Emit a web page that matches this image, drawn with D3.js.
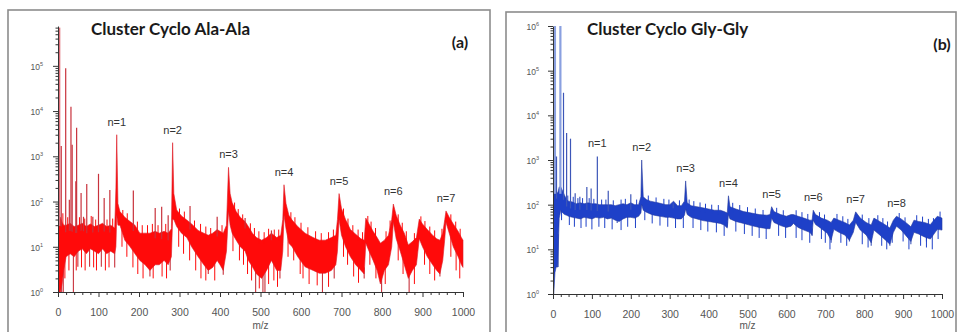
<!DOCTYPE html>
<html>
<head>
<meta charset="utf-8">
<script src="https://cdn.jsdelivr.net/npm/d3@7"></script>
<style>
  body { margin: 0; background: #fff; }
  svg { display: block; }
</style>
</head>
<body>
<svg id="chart" width="959" height="332"></svg>
<script>
// ---- panel (a): Cluster Cyclo Ala-Ala ----
// noise band of the spectrum: m/z, lower and upper edge
const alaBandMz = [
  0, 2, 6, 10, 14, 20, 30, 40, 50, 60,
  70, 80, 90, 100, 110, 120, 130, 140, 143, 145,
  148, 153, 165, 178, 190, 202, 215, 227, 240, 250,
  262, 272, 280, 283, 286, 293, 305, 318, 330, 346,
  360, 371, 382, 393, 400, 408, 416, 421, 425, 430,
  440, 450, 462, 470, 480, 490, 503, 515, 527, 540,
  550, 555, 558, 563, 570, 578, 592, 610, 630, 645,
  660, 675, 686, 690, 694, 700, 710, 722, 735, 748,
  756, 760, 768, 778, 788, 796, 806, 816, 824, 828,
  835, 845, 855, 865, 875, 885, 892, 900, 912, 925,
  935, 943, 950, 955, 958, 966, 976, 988, 996, 1000];
const alaBandLow = [
  1, 1, 1, 1.5, 3, 6, 7, 6, 8, 9,
  7, 9, 8, 7, 9, 7, 8, 7, 10, 50,
  30, 30, 14, 10, 7, 5, 4, 3, 4, 4,
  5, 4, 6, 40, 40, 28, 20, 16, 10, 6,
  4, 3, 3.5, 5, 4, 3, 8, 60, 30, 20,
  14, 10, 8, 5, 3.6, 2.5, 2, 3, 5, 3,
  3, 8, 50, 25, 12, 10, 6, 3.6, 3, 2.6,
  2.6, 3, 4, 8, 40, 18, 10, 6, 4, 3,
  2.5, 12, 8, 5, 3, 1.5, 3, 4, 10, 35,
  15, 8, 4, 2, 3, 4, 15, 10, 6, 4,
  3, 2.5, 5, 15, 35, 20, 10, 6, 4, 3.5];
const alaBandHigh = [
  1, 40, 45, 35, 30, 30, 33, 28, 30, 33,
  28, 32, 28, 30, 33, 28, 30, 26, 200, 3000,
  90, 60, 45, 36, 30, 20, 20, 20, 22, 20,
  22, 20, 25, 2000, 150, 65, 48, 39, 32, 23,
  20, 18, 20, 24, 22, 20, 30, 570, 150, 95,
  60, 45, 36, 28, 20, 16, 14, 16, 20, 16,
  18, 40, 235, 90, 50, 39, 28, 20, 16, 14,
  14, 16, 18, 40, 150, 70, 40, 24, 19, 15,
  14, 43, 32, 22, 16, 12, 14, 18, 40, 88,
  50, 30, 20, 11, 13, 16, 41, 32, 24, 18,
  15, 14, 20, 40, 62, 45, 32, 22, 16, 14];
// sharp lines above the band
const alaSpikeMz  = [3, 8, 19, 28, 32, 35, 44, 46, 57, 63, 71, 86, 100, 114, 128, 186, 240, 256, 272, 326, 393, 462, 527];
const alaSpikeInt = [7e5, 1700, 89000, 110, 12500, 1800, 280, 4300, 155, 46, 245, 46, 410, 120, 180, 175, 72, 77, 50, 80, 46, 43, 23];
// deep lines below the band
const alaDipMz  = [1, 4, 9, 13, 38, 49, 78, 107, 140, 227, 277, 371, 408, 488, 506, 511, 548, 653, 682, 756, 799, 867, 943];
const alaDipInt = [1, 1, 1, 1, 1, 3.6, 3.6, 3.6, 3.5, 2.2, 3, 2.5, 2.4, 1, 1, 1, 2, 1, 2, 2, 1, 1, 2.2];
// small noise ticks on the upper and lower edge of the band
const alaUpMz  = [12, 24, 53, 66, 82, 93, 121, 135, 160, 171, 196, 208, 221, 233, 247, 266, 300, 312, 337, 352,
                  365, 377, 405, 436, 445, 456, 475, 485, 496, 509, 520, 534, 545, 575, 585, 600, 617, 636, 650, 668,
                  680, 705, 716, 728, 741, 752, 765, 773, 784, 810, 820, 840, 850, 860, 880, 896, 906, 918, 930, 948,
                  970, 982, 993];
const alaUpInt = [55, 45, 45, 42, 48, 40, 40, 42, 65, 55, 36, 30, 30, 32, 30, 32, 70, 60, 38, 32,
                  28, 26, 30, 95, 68, 52, 33, 26, 22, 21, 25, 24, 24, 58, 45, 34, 27, 22, 20, 21,
                  24, 70, 42, 30, 24, 21, 48, 36, 26, 22, 38, 52, 34, 22, 20, 47, 37, 28, 23, 25,
                  52, 36, 25];
const alaLowMz  = [17, 27, 45, 58, 67, 88, 95, 117, 126, 158, 170, 185, 197, 210, 235, 257, 268, 298, 310, 325,
                   340, 353, 365, 387, 432, 448, 458, 468, 478, 497, 520, 533, 542, 568, 582, 598, 605, 620, 640, 668,
                   705, 715, 730, 742, 770, 785, 808, 840, 852, 880, 905, 918, 930, 970, 983, 992];
const alaLowInt = [2, 3, 3, 3.5, 3, 3.5, 3, 3, 3.5, 10, 6, 3.5, 2.5, 2, 2, 2.2, 2, 10, 7, 5,
                   3, 2, 1.8, 1.8, 8, 5, 4, 2.5, 1.8, 1.2, 1.5, 1.8, 1.3, 6, 5, 2.5, 2, 1.5, 1.4, 1.3,
                   6, 4, 2.2, 1.6, 4, 2, 1.5, 5, 2.5, 1.5, 4, 2.5, 1.8, 6, 3, 2];
// cluster peaks n=1..7
const alaLabelMz  = [145, 283, 421, 558, 694, 828, 958];
const alaLabelInt = [3000, 2000, 570, 235, 150, 88, 62];

// ---- panel (b): Cluster Cyclo Gly-Gly ----
const glyBandMz = [
  0, 2, 5, 8, 12, 16, 20, 25, 30, 35,
  40, 50, 60, 70, 80, 90, 100, 110, 120, 130,
  140, 150, 160, 170, 180, 190, 200, 210, 220, 226,
  228, 232, 240, 250, 260, 270, 280, 290, 300, 310,
  320, 330, 338, 341, 345, 355, 370, 385, 400, 415,
  430, 440, 448, 451, 455, 470, 490, 510, 530, 550,
  558, 562, 568, 585, 600, 612, 618, 630, 645, 660,
  666, 669, 675, 690, 705, 715, 722, 735, 750, 762,
  772, 778, 790, 805, 818, 825, 840, 855, 866, 875,
  883, 895, 910, 920, 928, 940, 955, 970, 988, 1000];
const glyBandLow = [
  1, 1, 3, 4, 4, 50, 75, 65, 60, 58,
  55, 52, 50, 48, 52, 50, 48, 52, 50, 52,
  48, 50, 45, 42, 48, 52, 52, 50, 55, 65,
  100, 75, 68, 62, 58, 56, 54, 52, 52, 50,
  48, 48, 58, 80, 60, 52, 48, 44, 42, 40,
  38, 35, 30, 60, 48, 42, 38, 34, 31, 29,
  29, 50, 40, 34, 31, 33, 38, 31, 27, 24,
  21, 45, 36, 29, 23, 16, 28, 24, 21, 16,
  24, 40, 27, 21, 14, 27, 21, 16, 13, 24,
  33, 27, 19, 15, 24, 22, 19, 17, 28, 27];
const glyBandHigh = [
  1, 200, 250, 200, 180, 250, 250, 200, 160, 130,
  120, 115, 105, 110, 105, 110, 105, 105, 100, 100,
  100, 100, 95, 100, 105, 100, 110, 100, 100, 150,
  1000, 150, 130, 120, 115, 110, 105, 100, 100, 120,
  95, 95, 120, 340, 110, 95, 90, 85, 80, 75,
  75, 70, 65, 158, 90, 80, 70, 65, 60, 58,
  60, 90, 70, 60, 55, 60, 60, 55, 50, 45,
  45, 75, 60, 50, 45, 40, 50, 45, 40, 35,
  45, 69, 50, 40, 35, 50, 42, 35, 30, 45,
  55, 48, 38, 32, 45, 42, 40, 36, 55, 50];
const glySpikeMz  = [1, 5, 9, 19, 27, 35, 45, 57, 69, 87, 98, 114, 142, 200, 309];
const glySpikeInt = [14000, 1e6, 1200, 1e6, 32000, 4000, 3000, 180, 150, 250, 230, 1200, 205, 170, 107];
const glyDipMz  = [0.5, 6, 10, 13, 165, 448, 666, 715, 762, 818, 866, 920, 960];
const glyDipInt = [1, 4, 4.5, 4, 39, 32, 20, 14, 15, 12, 12, 13, 15];
const glyUpMz  = [38, 52, 64, 76, 93, 105, 125, 136, 155, 175, 186, 215, 245, 265, 285, 298, 325, 350, 362, 378,
                  392, 408, 425, 462, 480, 500, 520, 540, 575, 592, 625, 640, 655, 685, 698, 730, 745, 758, 795, 812,
                  835, 848, 860, 890, 905, 935, 950, 965, 978, 995];
const glyUpInt = [160, 150, 140, 140, 140, 135, 130, 130, 125, 130, 135, 130, 160, 145, 135, 130, 125, 130, 120, 112,
                  105, 100, 98, 110, 98, 88, 82, 76, 85, 75, 75, 68, 62, 68, 60, 62, 55, 48, 60, 50,
                  58, 50, 42, 65, 52, 58, 54, 48, 50, 70];
const glyLowMz  = [22, 42, 55, 72, 85, 100, 118, 133, 152, 175, 192, 212, 236, 255, 275, 295, 315, 335, 360, 380,
                   398, 420, 440, 470, 492, 512, 530, 548, 580, 598, 625, 640, 660, 690, 700, 712, 740, 755, 795, 810,
                   845, 858, 872, 900, 915, 945, 960, 975, 990];
const glyLowInt = [45, 35, 32, 30, 32, 28, 32, 30, 28, 27, 32, 30, 45, 38, 34, 32, 30, 30, 30, 27,
                   25, 24, 20, 25, 22, 20, 18, 17, 20, 18, 18, 16, 14, 17, 14, 10, 14, 12, 13, 11,
                   12, 10, 14, 15, 10, 12, 11, 10, 17];
const glyLabelMz  = [114, 228, 341, 451, 562, 669, 778, 883];
const glyLabelInt = [1200, 1000, 340, 158, 90, 75, 69, 55];

const xTicks = d3.range(0, 1001, 100);
const xMinor = d3.range(0, 1001, 20).filter(v => v % 100);

const svg = d3.select('#chart');
const sans = '"Liberation Sans", Arial, sans-serif';

function drawPanel(p) {
  const g = svg.append('g');

  g.append('rect')
    .attr('x', p.box[0]).attr('y', p.box[1])
    .attr('width', p.box[2]).attr('height', p.box[3])
    .attr('fill', 'none')
    .attr('stroke', '#8c8c8c')
    .attr('stroke-width', 1.6);

  const x = d3.scaleLinear().domain([0, 1000]).range([p.left, p.right]);
  const y = d3.scaleLog().domain([1, p.yMax]).range([p.bottom, p.top]).clamp(true);

  g.append('clipPath').attr('id', 'clip-' + p.id)
    .append('rect')
    .attr('x', p.left).attr('y', p.top)
    .attr('width', p.right - p.left + 3).attr('height', p.bottom - p.top);

  const plot = g.append('g').attr('clip-path', 'url(#clip-' + p.id + ')');

  const loAt = d3.scaleLinear().domain(p.bandMz).range(p.bandLow);
  const hiAt = d3.scaleLinear().domain(p.bandMz).range(p.bandHigh);

  function ticks(cls, mz, val, from, color, w) {
    const rows = mz.map((m, i) => ({ m, v: val[i] }));
    plot.selectAll('line.' + cls).data(rows).join('line')
      .attr('class', cls)
      .attr('x1', d => x(d.m)).attr('x2', d => x(d.m))
      .attr('y1', d => y(from(d.m)))
      .attr('y2', d => y(d.v))
      .attr('stroke', typeof color === 'function' ? color : () => color)
      .attr('stroke-width', typeof w === 'function' ? w : () => w);
  }

  ticks('dip', p.dipMz, p.dipInt, m => loAt(m) * 1.4, p.line, 1.1);
  ticks('nlo', p.lowMz, p.lowInt, m => loAt(m) * 1.3, p.fill, 1);

  const band = p.bandMz.map((m, i) => ({ m, lo: p.bandLow[i], hi: p.bandHigh[i] }));
  plot.append('path')
    .datum(band)
    .attr('d', d3.area().x(d => x(d.m)).y0(d => y(d.lo)).y1(d => y(d.hi)))
    .attr('fill', p.fill)
    .attr('stroke', p.edge)
    .attr('stroke-width', 0.6)
    .attr('stroke-linejoin', 'round');

  ticks('nup', p.upMz, p.upInt, m => hiAt(m) * 0.8, p.fill, 1);
  ticks('spike', p.spikeMz, p.spikeInt, m => hiAt(m) * 0.7,
    d => d.v >= 1e5 ? p.tall : p.line, d => d.v >= 1e5 ? 2.2 : 1.2);

  // axes
  const xa = g.append('g')
    .attr('transform', 'translate(0,' + p.bottom + ')')
    .call(d3.axisBottom(x).tickValues(xTicks).tickSize(5).tickSizeOuter(0).tickFormat(d3.format('d')));
  g.append('g')
    .attr('transform', 'translate(0,' + p.bottom + ')')
    .call(d3.axisBottom(x).tickValues(xMinor).tickSize(3).tickFormat(''))
    .call(a => a.select('.domain').remove());
  xa.selectAll('.tick text')
    .attr('y', 16.5)
    .attr('dy', '0.71em')
    .attr('fill', '#555')
    .attr('font-size', 10.5)
    .attr('font-family', sans);

  const yMajor = d3.range(0, p.yExp + 1).map(e => Math.pow(10, e));
  const yMinor = [];
  d3.range(0, p.yExp + 1).forEach(e => {
    for (let k = 2; k <= 9; k++) {
      const v = k * Math.pow(10, e);
      if (v < p.yMax) yMinor.push(v);
    }
  });
  const ya = g.append('g')
    .attr('transform', 'translate(' + p.left + ',0)')
    .call(d3.axisLeft(y).tickValues(yMajor).tickSize(5).tickSizeOuter(0).tickFormat(''));
  g.append('g')
    .attr('transform', 'translate(' + p.left + ',0)')
    .call(d3.axisLeft(y).tickValues(yMinor).tickSize(2.5).tickFormat(''))
    .call(a => a.select('.domain').remove());
  ya.selectAll('.tick text').each(function (d) {
    const t = d3.select(this)
      .attr('x', p.yLabelX)
      .attr('dy', '0.35em')
      .attr('fill', '#555')
      .attr('font-family', sans);
    t.append('tspan').attr('font-size', 8.5).text('10');
    t.append('tspan').attr('font-size', 5.5).attr('dy', -4).text(Math.round(Math.log10(d)));
  });
  g.selectAll('.domain, .tick line').attr('stroke', '#333');

  g.append('text')
    .attr('x', (p.left + p.right) / 2).attr('y', 329)
    .attr('text-anchor', 'middle')
    .attr('font-family', sans)
    .attr('font-size', 10).attr('fill', '#555')
    .text('m/z');

  // cluster labels
  const labels = p.labelMz.map((m, i) => ({ m, v: p.labelInt[i], t: 'n=' + (i + 1) }));
  g.selectAll('text.nlab').data(labels).join('text')
    .attr('class', 'nlab')
    .attr('x', d => x(d.m)).attr('y', d => y(d.v) - 9)
    .attr('text-anchor', 'middle')
    .attr('font-family', sans)
    .attr('font-size', 11).attr('fill', '#333')
    .text(d => d.t);

  g.append('text')
    .attr('x', p.titleX).attr('y', 35)
    .attr('font-family', 'Lato, "Open Sans", sans-serif')
    .attr('font-weight', 700).attr('font-size', 17).attr('fill', '#1a1a1a')
    .text(p.title);

  g.append('text')
    .attr('x', p.tagX).attr('y', p.tagY)
    .attr('text-anchor', 'middle')
    .attr('font-family', 'Lato, "Open Sans", sans-serif')
    .attr('font-weight', 700).attr('font-size', 16).attr('fill', '#1a1a1a')
    .text(p.tag);
}

drawPanel({
  id: 'a', title: 'Cluster Cyclo Ala-Ala', tag: '(a)',
  box: [8, 10, 482, 330], left: 58, right: 463, top: 26, bottom: 292,
  yMax: 7.6e5, yExp: 5, yLabelX: -15, titleX: 91, tagX: 460, tagY: 48,
  bandMz: alaBandMz, bandLow: alaBandLow, bandHigh: alaBandHigh,
  spikeMz: alaSpikeMz, spikeInt: alaSpikeInt, dipMz: alaDipMz, dipInt: alaDipInt,
  upMz: alaUpMz, upInt: alaUpInt, lowMz: alaLowMz, lowInt: alaLowInt,
  labelMz: alaLabelMz, labelInt: alaLabelInt,
  fill: '#ff0a0a', edge: '#dc1c26', line: '#c8323c', tall: '#e0707a'
});

drawPanel({
  id: 'b', title: 'Cluster Cyclo Gly-Gly', tag: '(b)',
  box: [506, 12, 450, 330], left: 553, right: 942, top: 26, bottom: 294,
  yMax: 1e6, yExp: 6, yLabelX: -14, titleX: 587, tagX: 942, tagY: 50,
  bandMz: glyBandMz, bandLow: glyBandLow, bandHigh: glyBandHigh,
  spikeMz: glySpikeMz, spikeInt: glySpikeInt, dipMz: glyDipMz, dipInt: glyDipInt,
  upMz: glyUpMz, upInt: glyUpInt, lowMz: glyLowMz, lowInt: glyLowInt,
  labelMz: glyLabelMz, labelInt: glyLabelInt,
  fill: '#1e40c8', edge: '#23399e', line: '#3d56b8', tall: '#8aa0e0'
});
</script>
</body>
</html>
